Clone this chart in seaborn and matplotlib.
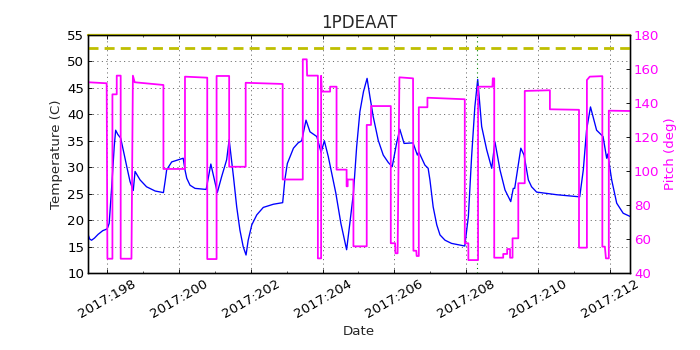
import matplotlib
matplotlib.use("Agg")
import matplotlib.pyplot as plt
import seaborn as sns
import pandas as pd
from matplotlib.ticker import MultipleLocator

# ---------------- data ----------------
temp_day = [197.47, 197.52, 197.57, 197.65, 197.75, 197.88, 197.99, 198.02, 198.06, 198.13,
            198.20, 198.24, 198.30, 198.38, 198.45, 198.55, 198.64, 198.73, 198.78, 198.92,
            199.10, 199.34, 199.57, 199.62, 199.66, 199.80, 200.12, 200.17, 200.22, 200.31,
            200.45, 200.76, 200.89, 201.07, 201.19, 201.33, 201.40, 201.52, 201.61, 201.70,
            201.79, 201.87, 201.93, 202.03, 202.17, 202.35, 202.63, 202.89, 202.95, 203.02,
            203.19, 203.32, 203.42, 203.54, 203.65, 203.84, 203.96, 204.05, 204.16, 204.37,
            204.51, 204.67, 204.76, 204.86, 204.95, 205.04, 205.14, 205.24, 205.32, 205.41,
            205.55, 205.69, 205.83, 205.94, 206.06, 206.15, 206.27, 206.52, 206.64, 206.68,
            206.85, 206.94, 206.99, 207.08, 207.18, 207.27, 207.41, 207.59, 207.96, 208.06,
            208.15, 208.24, 208.32, 208.43, 208.57, 208.71, 208.80, 208.94, 209.08, 209.24,
            209.31, 209.35, 209.52, 209.61, 209.73, 209.82, 209.96, 210.52, 211.16, 211.26,
            211.35, 211.46, 211.63, 211.81, 211.91, 211.94, 212.05, 212.19, 212.37, 212.56]
temp_c = [17.3, 16.4, 16.2, 16.6, 17.3, 18.0, 18.3, 18.6, 19.4, 26.3,
          33.9, 37.0, 36.2, 35.5, 33.3, 30.1, 27.3, 25.6, 29.2, 27.6,
          26.3, 25.5, 25.2, 27.5, 29.5, 31.0, 31.7, 29.5, 27.9, 26.6,
          26.0, 25.8, 30.6, 25.2, 28.2, 31.4, 35.2, 28.2, 22.5, 18.1,
          15.0, 13.4, 16.2, 19.1, 21.0, 22.4, 23.0, 23.3, 27.6, 30.7,
          33.6, 34.6, 35.0, 38.9, 36.7, 35.8, 32.8, 35.0, 32.0, 25.1,
          19.4, 14.4, 19.4, 25.1, 33.9, 40.5, 44.3, 46.8, 43.3, 39.6,
          35.1, 32.3, 30.9, 30.1, 34.5, 37.2, 34.5, 34.6, 32.3, 32.9,
          30.4, 29.8, 27.6, 22.5, 19.1, 17.2, 16.2, 15.6, 15.1, 20.7,
          32.0, 41.4, 46.6, 37.7, 33.3, 29.8, 34.8, 29.5, 25.7, 23.5,
          26.0, 26.0, 33.6, 32.3, 27.6, 26.3, 25.3, 24.8, 24.4, 29.5,
          37.0, 41.4, 37.0, 35.8, 31.7, 32.5, 27.6, 23.2, 21.3, 20.7]

pitch_day = [197.48, 197.99, 198.01, 198.15, 198.15, 198.27, 198.27, 198.38, 198.38, 198.68,
             198.72, 198.77, 199.57, 199.57, 200.17, 200.17, 200.79, 200.79, 201.05, 201.05,
             201.40, 201.40, 201.86, 201.86, 202.89, 202.89, 203.45, 203.45, 203.56, 203.57,
             203.87, 203.87, 203.96, 203.96, 203.98, 204.21, 204.21, 204.39, 204.39, 204.67,
             204.67, 204.70, 204.70, 204.86, 204.86, 205.23, 205.23, 205.35, 205.35, 205.90,
             205.90, 206.02, 206.03, 206.09, 206.14, 206.52, 206.53, 206.61, 206.62, 206.68,
             206.68, 206.92, 206.92, 207.96, 207.96, 208.06, 208.06, 208.33, 208.33, 208.73,
             208.74, 208.78, 208.78, 209.03, 209.03, 209.14, 209.14, 209.22, 209.22, 209.29,
             209.29, 209.45, 209.45, 209.63, 209.63, 210.33, 210.33, 211.14, 211.14, 211.36,
             211.36, 211.44, 211.79, 211.79, 211.86, 211.89, 211.97, 211.97, 212.56]
pitch_deg = [152.2, 151.6, 48.4, 48.4, 145.1, 145.1, 156.1, 156.1, 48.4, 48.4,
             156.1, 152.2, 150.6, 101.2, 101.2, 155.5, 154.9, 48.2, 48.2, 155.9,
             155.9, 102.5, 102.5, 151.9, 151.2, 95.0, 95.0, 165.7, 165.7, 156.1,
             156.1, 48.6, 48.6, 156.0, 146.7, 146.7, 149.6, 149.6, 100.8, 100.8,
             91.0, 91.0, 95.0, 95.0, 55.7, 55.7, 127.1, 127.1, 138.2, 138.2,
             57.5, 57.5, 51.6, 51.6, 155.1, 154.5, 53.1, 53.1, 50.0, 50.0,
             137.5, 137.5, 143.1, 142.2, 57.5, 57.5, 47.6, 47.6, 149.6, 149.6,
             154.5, 154.5, 49.0, 49.0, 51.2, 51.2, 54.1, 54.1, 49.0, 49.0,
             60.4, 60.4, 92.8, 92.8, 147.1, 147.5, 136.3, 136.0, 54.9, 54.9,
             153.5, 155.5, 155.8, 55.5, 55.5, 48.6, 48.6, 135.5, 135.3]

planning_limit = 52.5
upper_limit = 55.0
now_day = 208.30
x_ticks = [198, 200, 202, 204, 206, 208, 210, 212]
x_tick_labels = ["2017:198", "2017:200", "2017:202", "2017:204",
                 "2017:206", "2017:208", "2017:210", "2017:212"]

# ---------------- style ----------------
sns.set_style("ticks")
plt.rcParams.update({
    "font.family": ["DejaVu Sans"],
    "font.size": 12,
    "xtick.direction": "in",
    "ytick.direction": "in",
    "xtick.major.size": 4,
    "xtick.minor.size": 2,
    "ytick.major.size": 4,
    "ytick.minor.size": 2,
    "axes.linewidth": 1.2,
    "axes.edgecolor": "black",
    "xtick.color": "black",
    "ytick.color": "black",
})

fig = plt.figure(figsize=(8.75, 4.375), dpi=80)
ax = fig.add_axes([88 / 700, 1 - 273 / 350, 542 / 700, 238 / 350])

temp_df = pd.DataFrame({"day": temp_day, "temp": temp_c})
sns.lineplot(data=temp_df, x="day", y="temp", estimator=None, sort=False,
             color="blue", lw=1.2, ax=ax, zorder=3)

ax.axhline(planning_limit, color="#bfbf00", lw=2.5, ls=(0, (3.6, 2.2)), zorder=4)
ax.axhline(upper_limit, color="#bfbf00", lw=2.0, zorder=4, clip_on=False)
ax.axvline(now_day, color="green", lw=1.0, ls=(0, (1, 3)), zorder=4)

ax.set_xlim(197.47, 212.56)
ax.set_ylim(10, 55)
ax.set_xticks(x_ticks)
ax.set_xticklabels(x_tick_labels, rotation=30)
ax.xaxis.set_minor_locator(MultipleLocator(1))
ax.yaxis.set_major_locator(MultipleLocator(5))
ax.tick_params(axis="x", which="both", top=True)
ax.grid(True, which="major", color="black", ls=(0, (2, 6)), lw=0.5)
ax.set_xlabel("Date")
ax.set_ylabel("Temperature (C)")
ax.set_title("1PDEAAT", fontsize=15)

ax2 = ax.twinx()
pitch_df = pd.DataFrame({"day": pitch_day, "pitch": pitch_deg})
sns.lineplot(data=pitch_df, x="day", y="pitch", estimator=None, sort=False,
             color="#ff00ff", lw=1.6, ax=ax2, zorder=2)
ax2.set_ylim(40, 180)
ax2.yaxis.set_major_locator(MultipleLocator(20))
ax2.set_ylabel("Pitch (deg)", color="#ff00ff")
ax2.tick_params(axis="y", labelcolor="#ff00ff", color="black", direction="in")
ax2.spines["right"].set_color("black")
ax2.set_xlim(197.47, 212.56)

fig.savefig("out.png", dpi=80)
